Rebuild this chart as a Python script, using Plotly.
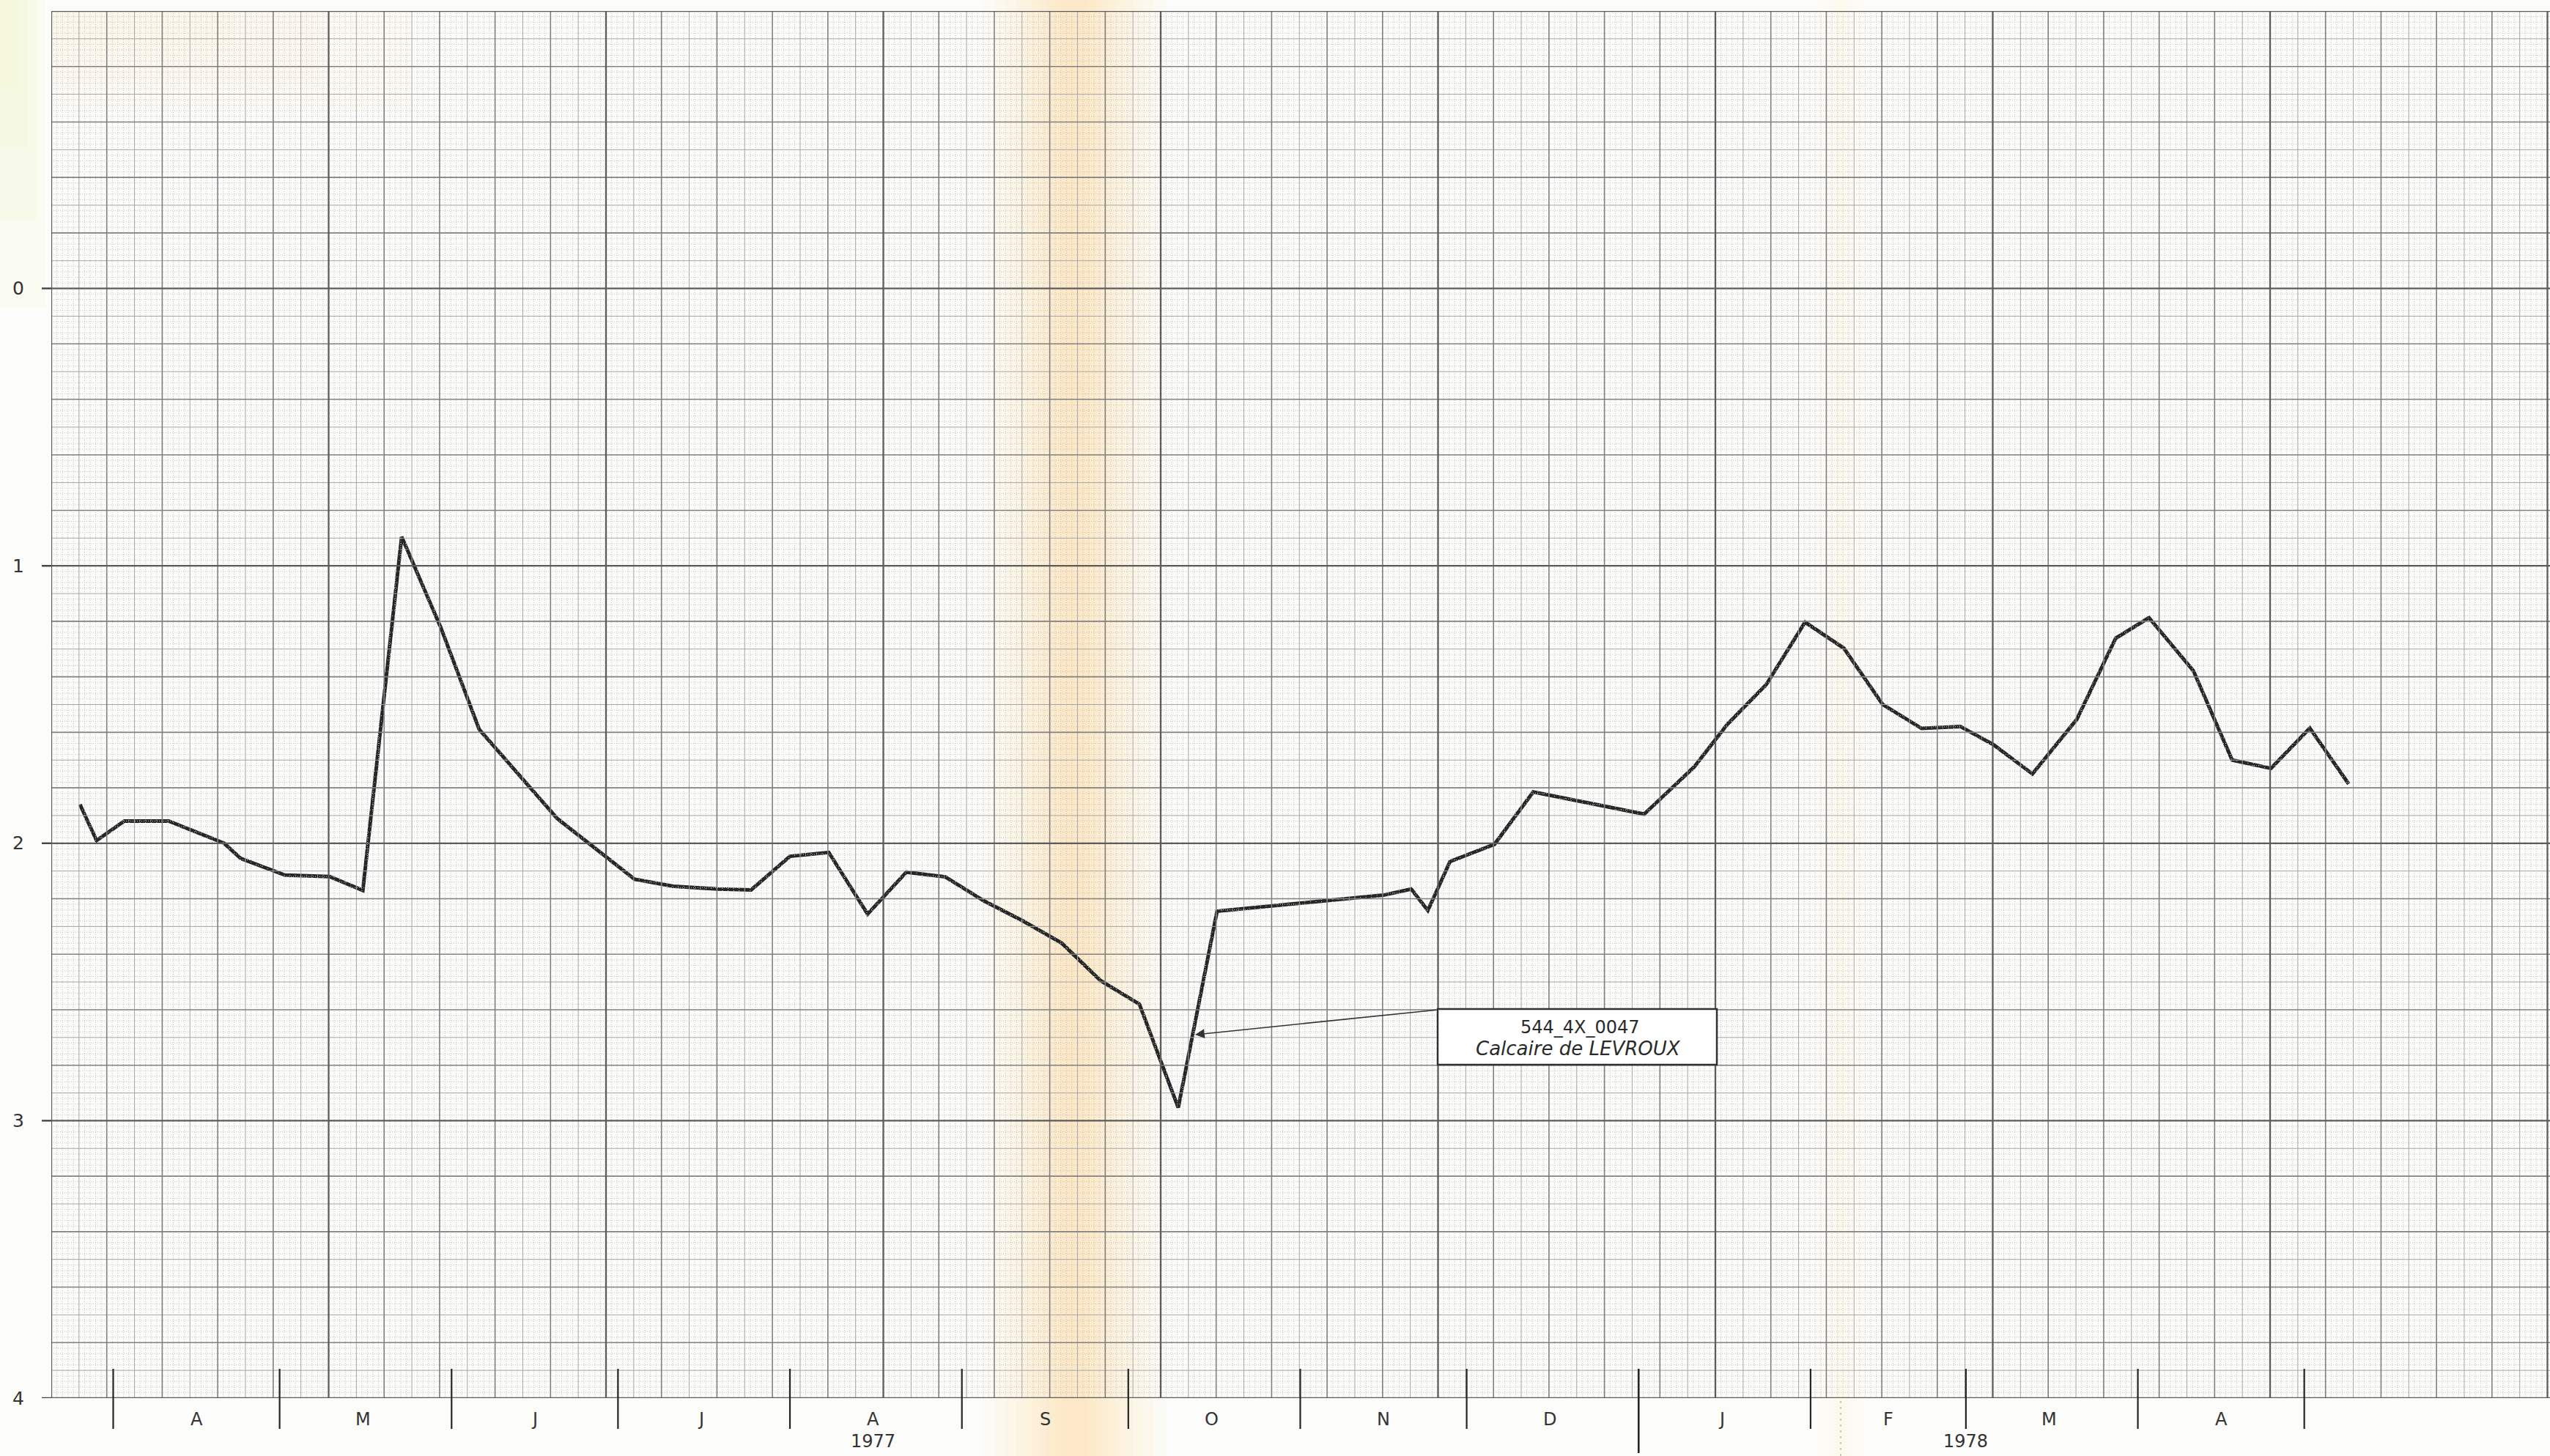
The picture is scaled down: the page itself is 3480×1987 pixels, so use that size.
import plotly.graph_objects as go

# ---------------------------------------------------------------------------
# Piezometer 544_4X_0047 - Calcaire de LEVROUX : weekly water-level readings
# (depth below reference, metres; axis points downward)
# ---------------------------------------------------------------------------
obs_dates = [
    "1977-03-26", "1977-03-29", "1977-04-03", "1977-04-11", "1977-04-21",
    "1977-04-24", "1977-05-02", "1977-05-10", "1977-05-16", "1977-05-23",
    "1977-05-30", "1977-06-06", "1977-06-20", "1977-07-04", "1977-07-11",
    "1977-07-19", "1977-07-25", "1977-08-01", "1977-08-08", "1977-08-15",
    "1977-08-22", "1977-08-29", "1977-09-05", "1977-09-12", "1977-09-19",
    "1977-09-26", "1977-10-03", "1977-10-10", "1977-10-17", "1977-11-16",
    "1977-11-21", "1977-11-24", "1977-11-28", "1977-12-06", "1977-12-13",
    "1978-01-02", "1978-01-11", "1978-01-17", "1978-01-24", "1978-01-31",
    "1978-02-07", "1978-02-14", "1978-02-21", "1978-02-28", "1978-03-06",
    "1978-03-13", "1978-03-21", "1978-03-28", "1978-04-03", "1978-04-11",
    "1978-04-18", "1978-04-25", "1978-05-02", "1978-05-09",
]
levels = [
    1.86, 1.99, 1.92, 1.92, 2.00,
    2.055, 2.115, 2.12, 2.17, 0.895,
    1.22, 1.59, 1.91, 2.13, 2.155,
    2.165, 2.168, 2.047, 2.033, 2.255,
    2.104, 2.121, 2.208, 2.28, 2.36,
    2.495, 2.58, 2.953, 2.245, 2.187,
    2.165, 2.242, 2.066, 2.004, 1.815,
    1.895, 1.725, 1.571, 1.428, 1.203,
    1.297, 1.50, 1.586, 1.579, 1.645,
    1.75, 1.553, 1.261, 1.187, 1.378,
    1.70, 1.73, 1.585, 1.786,
]

month_letters = ["A", "M", "J", "J", "A", "S", "O", "N", "D", "J", "F", "M", "A"]
month_starts = [
    "1977-04-01", "1977-05-01", "1977-06-01", "1977-07-01", "1977-08-01",
    "1977-09-01", "1977-10-01", "1977-11-01", "1977-12-01", "1978-01-01",
    "1978-02-01", "1978-03-01", "1978-04-01", "1978-05-01",
]
month_mids = [
    "1977-04-16", "1977-05-16", "1977-06-16", "1977-07-16", "1977-08-16",
    "1977-09-16", "1977-10-16", "1977-11-16", "1977-12-16", "1978-01-16",
    "1978-02-15", "1978-03-16", "1978-04-16",
]
year_labels = ["1977", "1978"]
year_label_dates = ["1977-08-16", "1978-03-01"]
year_boundary = "1978-01-01"
y_tick_values = [0, 1, 2, 3, 4]

station_code = "544_4X_0047"
aquifer_name = "Calcaire de LEVROUX"
pointer_date = "1977-10-13 01:00"
pointer_level = 2.69

# ---------------------------------------------------------------------------
# Page geometry (pixels)
# ---------------------------------------------------------------------------
W, H = 3480, 1987
ML, MR, MT, MB = 70, 0, 15, 79
PW, PH = W - ML - MR, H - MT - MB
MM = 7.57                      # one millimetre of the graph paper
SHEET_W_MM = PW / MM           # width of the printed sheet in mm
X_RANGE = ["1977-03-20 20:07", "1978-06-14 07:12"]
Y_RANGE = [4, -1]              # depth increases downward


def px_x(px):
    return (px - ML) / PW


def px_y(py):
    return (H - MB - py) / PH


FONT = "DejaVu Sans, Liberation Sans, sans-serif"
INK = "#262626"

fig = go.Figure()

# ---- millimetre graph paper ------------------------------------------------
styles = {
    "fine": dict(color="#c2c2c2", width=1, dash="1px,2px"),
    "mid": dict(color="#a6a6a6", width=1),
    "major": dict(color="#808080", width=1.6),
    "heavy": dict(color="#5c5c5c", width=2.3),
}


def weight(k):
    if k % 50 == 0:
        return "heavy"
    if k % 10 == 0:
        return "major"
    if k % 5 == 0:
        return "mid"
    return "fine"


vx = {k: [] for k in styles}
vy = {k: [] for k in styles}
hx = {k: [] for k in styles}
hy = {k: [] for k in styles}

n_v = int(SHEET_W_MM) + 1
for k in range(n_v):
    w = weight(k)
    vx[w] += [k, k, None]
    vy[w] += [-1, 4, None]

for k in range(0, 251):
    w = weight(k)
    yv = -1 + k * 0.02
    hx[w] += [0, SHEET_W_MM, None]
    hy[w] += [yv, yv, None]

for w in ["fine", "mid", "major", "heavy"]:
    fig.add_trace(go.Scatter(x=vx[w], y=vy[w], xaxis="x2", yaxis="y",
                             mode="lines", line=styles[w],
                             hoverinfo="skip", showlegend=False))
    fig.add_trace(go.Scatter(x=hx[w], y=hy[w], xaxis="x2", yaxis="y",
                             mode="lines", line=styles[w],
                             hoverinfo="skip", showlegend=False))

# ---- water-level curve -----------------------------------------------------
fig.add_trace(go.Scatter(
    x=obs_dates, y=levels, mode="lines",
    line=dict(color=INK, width=5),
    hoverinfo="x+y", showlegend=False,
))

shapes = []

# paper discolouration: soft yellowed band built from nested faint strips
band_centre = 1466
for half in [125, 108, 93, 80, 68, 57, 47, 37, 27, 17]:
    shapes.append(dict(type="rect", xref="paper", yref="paper",
                       x0=px_x(band_centre - half), x1=px_x(band_centre + half),
                       y0=px_y(H), y1=px_y(0),
                       fillcolor="rgba(250,212,110,0.045)",
                       line=dict(width=0), layer="below"))
for half in [30, 18, 8]:
    shapes.append(dict(type="rect", xref="paper", yref="paper",
                       x0=px_x(2512 - half), x1=px_x(2512 + half),
                       y0=px_y(H), y1=px_y(0),
                       fillcolor="rgba(248,230,150,0.035)",
                       line=dict(width=0), layer="below"))
# yellowed top-left corner of the sheet
for x1, y1 in [(62, 420), (50, 300), (38, 200), (26, 120)]:
    shapes.append(dict(type="rect", xref="paper", yref="paper",
                       x0=px_x(0), x1=px_x(x1), y0=px_y(y1), y1=px_y(0),
                       fillcolor="rgba(236,244,180,0.12)", line=dict(width=0),
                       layer="below"))
for x1, y1 in [(560, 150), (440, 110), (320, 70)]:
    shapes.append(dict(type="rect", xref="paper", yref="paper",
                       x0=px_x(70), x1=px_x(x1), y0=px_y(y1), y1=px_y(15),
                       fillcolor="rgba(248,225,160,0.05)", line=dict(width=0),
                       layer="below"))

# month ticks crossing the bottom edge
for d in month_starts:
    long_tick = d == year_boundary
    shapes.append(dict(type="line", xref="x", yref="paper",
                       x0=d, x1=d, y0=px_y(1983 if long_tick else 1950),
                       y1=px_y(1868),
                       line=dict(color=INK, width=2.6 if long_tick else 2.2)))

# depth ticks on the left edge
for v in y_tick_values:
    shapes.append(dict(type="line", xref="paper", yref="y",
                       x0=px_x(57), x1=px_x(70), y0=v, y1=v,
                       line=dict(color="#444444", width=2.4)))

# faint fold mark below the sheet
shapes.append(dict(type="line", xref="paper", yref="paper",
                   x0=px_x(2512), x1=px_x(2512), y0=px_y(H), y1=px_y(1910),
                   line=dict(color="#cfcbb8", width=2, dash="3px,5px")))

# station label box
shapes.append(dict(type="rect", xref="paper", yref="paper",
                   x0=px_x(1962), x1=px_x(2343), y0=px_y(1453), y1=px_y(1377),
                   fillcolor="#ffffff", line=dict(color="#303030", width=2.5)))

annotations = []
for letter, d in zip(month_letters, month_mids):
    annotations.append(dict(x=d, y=px_y(1937), xref="x", yref="paper",
                            text=letter, showarrow=False,
                            xanchor="center", yanchor="middle",
                            font=dict(family=FONT, size=24, color="#333333")))
for label, d in zip(year_labels, year_label_dates):
    annotations.append(dict(x=d, y=px_y(1967), xref="x", yref="paper",
                            text=label, showarrow=False,
                            xanchor="center", yanchor="middle",
                            font=dict(family=FONT, size=24, color="#333333")))
for v in y_tick_values:
    annotations.append(dict(x=px_x(25), y=v, xref="paper", yref="y",
                            text=str(v), showarrow=False,
                            xanchor="center", yanchor="middle",
                            font=dict(family=FONT, size=25, color="#333333")))

annotations.append(dict(x=px_x(2156), y=px_y(1402), xref="paper", yref="paper",
                        text=station_code, showarrow=False,
                        xanchor="center", yanchor="middle",
                        font=dict(family=FONT, size=24, color="#2a2a2a")))
annotations.append(dict(x=px_x(2154), y=px_y(1431), xref="paper", yref="paper",
                        text="<i>" + aquifer_name + "</i>", showarrow=False,
                        xanchor="center", yanchor="middle",
                        font=dict(family=FONT, size=26, color="#2a2a2a")))
# leader arrow from the label box to the curve
annotations.append(dict(x=pointer_date, y=pointer_level, xref="x", yref="y",
                        text="", showarrow=True, ax=331, ay=-34,
                        arrowhead=2, arrowsize=1.6, arrowwidth=1.6,
                        arrowcolor="#333333", standoff=0, startstandoff=0))

fig.update_layout(
    width=W, height=H,
    margin=dict(l=ML, r=MR, t=MT, b=MB, pad=0),
    paper_bgcolor="#fcfcfa",
    plot_bgcolor="rgba(0,0,0,0)",
    showlegend=False,
    xaxis=dict(type="date", range=X_RANGE, visible=False, fixedrange=True),
    xaxis2=dict(range=[0, SHEET_W_MM], overlaying="x", visible=False,
                fixedrange=True),
    yaxis=dict(range=Y_RANGE, visible=False, fixedrange=True),
    shapes=shapes,
    annotations=annotations,
)

fig.write_html("out.html")
